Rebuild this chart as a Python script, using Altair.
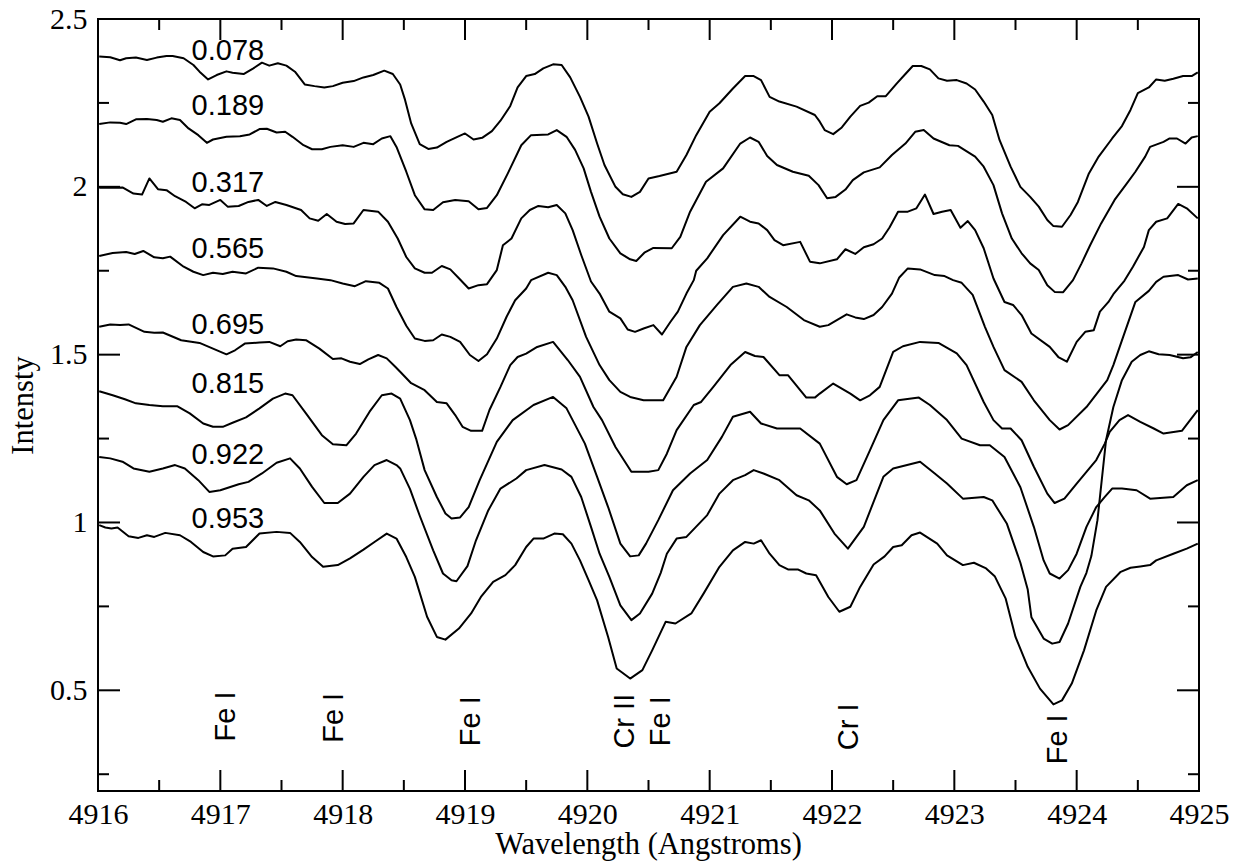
import altair as alt
import pandas as pd

W, H = 1101, 772

# ---------------- spectra (wavelength in Angstroms, intensity) ----------------
wl_078 = [4916.01, 4916.10, 4916.18, 4916.23, 4916.31, 4916.40, 4916.48, 4916.56, 4916.61, 4916.70,
          4916.78, 4916.83, 4916.90, 4916.97, 4917.05, 4917.10, 4917.19, 4917.27, 4917.34, 4917.40,
          4917.47, 4917.54, 4917.61, 4917.69, 4917.77, 4917.85, 4917.92, 4918.00, 4918.09, 4918.17,
          4918.25, 4918.34, 4918.41, 4918.47, 4918.51, 4918.56, 4918.63, 4918.70, 4918.77, 4918.85,
          4918.92, 4919.00, 4919.07, 4919.14, 4919.22, 4919.29, 4919.37, 4919.43, 4919.50, 4919.57,
          4919.64, 4919.72, 4919.79, 4919.86, 4919.94, 4920.01, 4920.08, 4920.14, 4920.23, 4920.29,
          4920.36, 4920.43, 4920.50, 4920.59, 4920.73, 4920.81, 4920.89, 4921.00, 4921.08, 4921.19,
          4921.29, 4921.36, 4921.42, 4921.49, 4921.57, 4921.71, 4921.86, 4921.90, 4921.94, 4922.01,
          4922.08, 4922.15, 4922.23, 4922.30, 4922.37, 4922.44, 4922.53, 4922.60, 4922.66, 4922.73,
          4922.80, 4922.87, 4922.94, 4923.02, 4923.10, 4923.17, 4923.24, 4923.31, 4923.37, 4923.46,
          4923.54, 4923.62, 4923.69, 4923.76, 4923.81, 4923.88, 4923.95, 4924.01, 4924.10, 4924.18,
          4924.29, 4924.37, 4924.44, 4924.50, 4924.59, 4924.65, 4924.72, 4924.79, 4924.87, 4924.94,
          4924.99]
in_078 = [2.388, 2.386, 2.377, 2.383, 2.385, 2.378, 2.385, 2.390, 2.390, 2.383,
          2.363, 2.343, 2.320, 2.333, 2.344, 2.340, 2.336, 2.353, 2.370, 2.361,
          2.368, 2.361, 2.343, 2.305, 2.300, 2.296, 2.300, 2.310, 2.315, 2.326,
          2.333, 2.346, 2.336, 2.305, 2.259, 2.189, 2.127, 2.113, 2.117, 2.134,
          2.146, 2.159, 2.141, 2.146, 2.166, 2.197, 2.241, 2.296, 2.330, 2.336,
          2.353, 2.365, 2.363, 2.326, 2.268, 2.209, 2.129, 2.065, 2.000, 1.978,
          1.970, 1.985, 2.025, 2.032, 2.045, 2.095, 2.154, 2.224, 2.249, 2.293,
          2.330, 2.330, 2.318, 2.268, 2.254, 2.239, 2.214, 2.194, 2.169, 2.157,
          2.177, 2.209, 2.241, 2.251, 2.270, 2.270, 2.308, 2.336, 2.360, 2.360,
          2.350, 2.323, 2.316, 2.318, 2.308, 2.290, 2.254, 2.214, 2.139, 2.060,
          2.000, 1.970, 1.941, 1.901, 1.883, 1.881, 1.916, 1.955, 2.040, 2.090,
          2.144, 2.181, 2.229, 2.279, 2.296, 2.320, 2.316, 2.322, 2.330, 2.330,
          2.341]

wl_189 = [4916.01, 4916.10, 4916.18, 4916.23, 4916.31, 4916.40, 4916.48, 4916.53, 4916.60, 4916.67,
          4916.74, 4916.82, 4916.89, 4916.94, 4917.05, 4917.16, 4917.24, 4917.32, 4917.38, 4917.46,
          4917.53, 4917.59, 4917.68, 4917.75, 4917.83, 4917.90, 4918.00, 4918.09, 4918.17, 4918.25,
          4918.32, 4918.39, 4918.44, 4918.52, 4918.59, 4918.67, 4918.74, 4918.82, 4918.92, 4919.03,
          4919.11, 4919.18, 4919.26, 4919.35, 4919.46, 4919.54, 4919.68, 4919.75, 4919.83, 4919.90,
          4919.97, 4920.03, 4920.10, 4920.18, 4920.27, 4920.35, 4920.40, 4920.47, 4920.54, 4920.69,
          4920.76, 4920.84, 4920.97, 4921.11, 4921.25, 4921.33, 4921.40, 4921.47, 4921.55, 4921.68,
          4921.81, 4921.89, 4921.96, 4922.03, 4922.11, 4922.17, 4922.26, 4922.39, 4922.49, 4922.60,
          4922.68, 4922.75, 4922.83, 4922.96, 4923.03, 4923.17, 4923.24, 4923.32, 4923.39, 4923.47,
          4923.55, 4923.62, 4923.69, 4923.76, 4923.82, 4923.89, 4923.97, 4924.04, 4924.11, 4924.20,
          4924.31, 4924.40, 4924.48, 4924.56, 4924.60, 4924.71, 4924.76, 4924.82, 4924.89, 4924.94,
          4924.99]
in_189 = [2.187, 2.192, 2.191, 2.187, 2.201, 2.202, 2.199, 2.194, 2.204, 2.199,
          2.174, 2.154, 2.131, 2.141, 2.149, 2.151, 2.156, 2.172, 2.173, 2.162,
          2.164, 2.149, 2.124, 2.112, 2.112, 2.119, 2.124, 2.119, 2.131, 2.127,
          2.144, 2.151, 2.119, 2.045, 1.975, 1.933, 1.931, 1.954, 1.961, 1.957,
          1.933, 1.937, 1.975, 2.040, 2.124, 2.154, 2.156, 2.169, 2.149, 2.110,
          2.055, 1.985, 1.911, 1.846, 1.802, 1.784, 1.779, 1.805, 1.818, 1.817,
          1.851, 1.926, 2.015, 2.055, 2.129, 2.147, 2.134, 2.092, 2.065, 2.045,
          2.033, 2.005, 1.966, 1.970, 1.992, 2.020, 2.043, 2.058, 2.095, 2.129,
          2.164, 2.169, 2.144, 2.124, 2.122, 2.090, 2.060, 2.005, 1.921, 1.846,
          1.802, 1.772, 1.752, 1.707, 1.687, 1.686, 1.722, 1.772, 1.826, 1.891,
          1.961, 2.005, 2.045, 2.090, 2.119, 2.134, 2.144, 2.144, 2.129, 2.147,
          2.151]

wl_317 = [4916.01, 4916.12, 4916.20, 4916.29, 4916.36, 4916.42, 4916.49, 4916.56, 4916.63, 4916.72,
          4916.79, 4916.85, 4916.91, 4917.00, 4917.06, 4917.15, 4917.23, 4917.31, 4917.38, 4917.45,
          4917.54, 4917.66, 4917.73, 4917.80, 4917.87, 4917.95, 4918.02, 4918.09, 4918.17, 4918.29,
          4918.37, 4918.45, 4918.52, 4918.59, 4918.67, 4918.73, 4918.81, 4918.88, 4918.96, 4919.03,
          4919.11, 4919.18, 4919.26, 4919.31, 4919.38, 4919.46, 4919.53, 4919.60, 4919.68, 4919.75,
          4919.82, 4919.88, 4919.95, 4920.03, 4920.10, 4920.18, 4920.27, 4920.33, 4920.39, 4920.46,
          4920.54, 4920.61, 4920.68, 4920.74, 4920.81, 4920.87, 4920.89, 4920.98, 4921.11, 4921.25,
          4921.33, 4921.40, 4921.47, 4921.53, 4921.60, 4921.74, 4921.82, 4921.90, 4922.04, 4922.11,
          4922.19, 4922.26, 4922.34, 4922.41, 4922.47, 4922.54, 4922.62, 4922.69, 4922.76, 4922.83,
          4922.90, 4922.97, 4923.05, 4923.11, 4923.17, 4923.24, 4923.32, 4923.41, 4923.48, 4923.55,
          4923.63, 4923.78, 4923.85, 4923.92, 4924.00, 4924.07, 4924.14, 4924.19, 4924.26, 4924.30,
          4924.39, 4924.46, 4924.55, 4924.59, 4924.65, 4924.74, 4924.83, 4924.90, 4924.99]
in_317 = [1.997, 1.997, 1.998, 1.980, 1.977, 2.025, 1.993, 1.990, 1.972, 1.955,
          1.936, 1.948, 1.946, 1.961, 1.941, 1.943, 1.955, 1.961, 1.943, 1.955,
          1.946, 1.931, 1.906, 1.899, 1.919, 1.896, 1.889, 1.891, 1.931, 1.926,
          1.896, 1.846, 1.791, 1.757, 1.744, 1.744, 1.764, 1.754, 1.724, 1.697,
          1.707, 1.710, 1.752, 1.826, 1.846, 1.906, 1.931, 1.943, 1.939, 1.946,
          1.921, 1.871, 1.797, 1.718, 1.682, 1.628, 1.608, 1.575, 1.568, 1.578,
          1.588, 1.560, 1.598, 1.628, 1.682, 1.722, 1.750, 1.787, 1.856, 1.911,
          1.896, 1.891, 1.871, 1.841, 1.826, 1.836, 1.777, 1.772, 1.784, 1.814,
          1.800, 1.820, 1.829, 1.846, 1.879, 1.926, 1.926, 1.936, 1.977, 1.919,
          1.926, 1.931, 1.878, 1.898, 1.871, 1.817, 1.727, 1.657, 1.648, 1.618,
          1.563, 1.523, 1.493, 1.479, 1.538, 1.568, 1.573, 1.628, 1.657, 1.680,
          1.720, 1.762, 1.821, 1.871, 1.896, 1.906, 1.949, 1.936, 1.906]

wl_565 = [4916.01, 4916.12, 4916.23, 4916.30, 4916.37, 4916.46, 4916.53, 4916.59, 4916.70, 4916.78,
          4916.86, 4916.94, 4917.02, 4917.10, 4917.21, 4917.31, 4917.43, 4917.54, 4917.62, 4917.79,
          4917.90, 4918.00, 4918.10, 4918.19, 4918.30, 4918.37, 4918.44, 4918.52, 4918.59, 4918.67,
          4918.74, 4918.81, 4918.88, 4918.96, 4919.04, 4919.11, 4919.18, 4919.26, 4919.34, 4919.41,
          4919.50, 4919.54, 4919.68, 4919.75, 4919.82, 4919.88, 4919.99, 4920.10, 4920.18, 4920.27,
          4920.35, 4920.46, 4920.62, 4920.73, 4920.81, 4920.92, 4921.06, 4921.19, 4921.30, 4921.40,
          4921.49, 4921.63, 4921.77, 4921.90, 4921.97, 4922.05, 4922.12, 4922.19, 4922.26, 4922.34,
          4922.41, 4922.49, 4922.55, 4922.62, 4922.72, 4922.84, 4922.92, 4922.99, 4923.06, 4923.15,
          4923.25, 4923.32, 4923.41, 4923.55, 4923.65, 4923.78, 4923.86, 4923.93, 4924.08, 4924.25,
          4924.30, 4924.38, 4924.48, 4924.59, 4924.65, 4924.71, 4924.83, 4924.91, 4924.99]
in_565 = [1.794, 1.803, 1.806, 1.800, 1.809, 1.790, 1.787, 1.792, 1.762, 1.747,
          1.737, 1.744, 1.740, 1.747, 1.742, 1.759, 1.757, 1.747, 1.734, 1.727,
          1.722, 1.712, 1.704, 1.719, 1.714, 1.697, 1.642, 1.586, 1.548, 1.541,
          1.543, 1.560, 1.553, 1.538, 1.499, 1.481, 1.501, 1.548, 1.613, 1.662,
          1.697, 1.722, 1.744, 1.737, 1.702, 1.662, 1.553, 1.469, 1.424, 1.389,
          1.374, 1.364, 1.364, 1.434, 1.523, 1.588, 1.648, 1.702, 1.712, 1.702,
          1.672, 1.642, 1.603, 1.583, 1.588, 1.605, 1.620, 1.611, 1.606, 1.618,
          1.642, 1.682, 1.730, 1.757, 1.754, 1.737, 1.734, 1.722, 1.714, 1.678,
          1.583, 1.523, 1.454, 1.419, 1.364, 1.305, 1.277, 1.290, 1.344, 1.424,
          1.469, 1.553, 1.657, 1.690, 1.717, 1.732, 1.737, 1.724, 1.727]

wl_695 = [4916.01, 4916.10, 4916.18, 4916.25, 4916.38, 4916.46, 4916.53, 4916.68, 4916.83, 4916.94,
          4917.05, 4917.12, 4917.20, 4917.32, 4917.40, 4917.49, 4917.55, 4917.62, 4917.70, 4917.81,
          4917.92, 4917.99, 4918.06, 4918.14, 4918.21, 4918.29, 4918.36, 4918.43, 4918.47, 4918.56,
          4918.67, 4918.77, 4918.85, 4918.92, 4918.98, 4919.05, 4919.14, 4919.20, 4919.29, 4919.37,
          4919.43, 4919.50, 4919.59, 4919.72, 4919.84, 4919.94, 4920.05, 4920.12, 4920.23, 4920.36,
          4920.50, 4920.58, 4920.65, 4920.73, 4920.87, 4920.93, 4921.03, 4921.17, 4921.29, 4921.37,
          4921.44, 4921.57, 4921.64, 4921.79, 4921.86, 4921.90, 4922.01, 4922.15, 4922.23, 4922.31,
          4922.39, 4922.50, 4922.58, 4922.72, 4922.87, 4923.02, 4923.10, 4923.24, 4923.32, 4923.39,
          4923.46, 4923.55, 4923.65, 4923.76, 4923.82, 4923.90, 4924.00, 4924.08, 4924.16, 4924.23,
          4924.27, 4924.35, 4924.42, 4924.52, 4924.63, 4924.71, 4924.86, 4924.99]
in_695 = [1.583, 1.590, 1.588, 1.590, 1.568, 1.565, 1.566, 1.543, 1.535, 1.518,
          1.501, 1.513, 1.533, 1.536, 1.538, 1.525, 1.540, 1.545, 1.543, 1.518,
          1.487, 1.489, 1.479, 1.472, 1.486, 1.499, 1.489, 1.464, 1.449, 1.415,
          1.394, 1.359, 1.355, 1.320, 1.285, 1.273, 1.273, 1.335, 1.404, 1.469,
          1.493, 1.503, 1.523, 1.538, 1.484, 1.434, 1.344, 1.305, 1.225, 1.151,
          1.151, 1.156, 1.205, 1.275, 1.350, 1.359, 1.404, 1.469, 1.508, 1.496,
          1.493, 1.439, 1.439, 1.372, 1.372, 1.384, 1.414, 1.384, 1.364, 1.379,
          1.404, 1.508, 1.525, 1.538, 1.535, 1.504, 1.469, 1.359, 1.305, 1.280,
          1.280, 1.245, 1.166, 1.086, 1.058, 1.071, 1.116, 1.151, 1.186, 1.235,
          1.270, 1.305, 1.320, 1.300, 1.280, 1.265, 1.273, 1.335]

wl_815 = [4916.01, 4916.12, 4916.22, 4916.31, 4916.42, 4916.53, 4916.65, 4916.75, 4916.86, 4916.94,
          4917.02, 4917.10, 4917.21, 4917.32, 4917.43, 4917.53, 4917.59, 4917.70, 4917.83, 4917.92,
          4918.03, 4918.11, 4918.22, 4918.32, 4918.40, 4918.47, 4918.55, 4918.60, 4918.67, 4918.77,
          4918.84, 4918.89, 4918.96, 4919.03, 4919.12, 4919.26, 4919.39, 4919.56, 4919.72, 4919.83,
          4919.98, 4920.08, 4920.17, 4920.27, 4920.35, 4920.42, 4920.48, 4920.58, 4920.70, 4920.84,
          4920.98, 4921.10, 4921.19, 4921.33, 4921.42, 4921.55, 4921.74, 4921.90, 4922.04, 4922.12,
          4922.20, 4922.31, 4922.42, 4922.54, 4922.71, 4922.80, 4922.94, 4923.06, 4923.21, 4923.29,
          4923.41, 4923.54, 4923.65, 4923.73, 4923.78, 4923.86, 4923.93, 4924.00, 4924.08, 4924.16,
          4924.23, 4924.29, 4924.37, 4924.49, 4924.60, 4924.79, 4924.90, 4924.99]
in_815 = [1.391, 1.379, 1.367, 1.355, 1.350, 1.346, 1.346, 1.325, 1.295, 1.285,
          1.285, 1.297, 1.313, 1.340, 1.369, 1.384, 1.379, 1.325, 1.260, 1.233,
          1.230, 1.265, 1.330, 1.379, 1.384, 1.369, 1.305, 1.250, 1.156, 1.076,
          1.027, 1.012, 1.015, 1.046, 1.126, 1.240, 1.305, 1.350, 1.374, 1.340,
          1.235, 1.136, 1.046, 0.937, 0.899, 0.902, 0.937, 1.007, 1.096, 1.146,
          1.186, 1.255, 1.315, 1.330, 1.295, 1.280, 1.280, 1.235, 1.136, 1.114,
          1.126, 1.215, 1.305, 1.364, 1.372, 1.350, 1.305, 1.250, 1.230, 1.230,
          1.195, 1.105, 0.987, 0.887, 0.848, 0.833, 0.858, 0.907, 0.987, 1.046,
          1.076, 1.101, 1.101, 1.096, 1.071, 1.076, 1.111, 1.126]

wl_922 = [4916.01, 4916.10, 4916.20, 4916.29, 4916.42, 4916.53, 4916.63, 4916.71, 4916.82, 4916.91,
          4917.00, 4917.15, 4917.23, 4917.34, 4917.46, 4917.57, 4917.65, 4917.75, 4917.85, 4917.96,
          4918.06, 4918.17, 4918.26, 4918.36, 4918.44, 4918.47, 4918.55, 4918.63, 4918.74, 4918.82,
          4918.89, 4918.93, 4919.02, 4919.09, 4919.19, 4919.29, 4919.42, 4919.50, 4919.65, 4919.79,
          4919.87, 4919.95, 4920.03, 4920.10, 4920.18, 4920.27, 4920.36, 4920.43, 4920.53, 4920.60,
          4920.65, 4920.73, 4920.81, 4920.98, 4921.08, 4921.19, 4921.29, 4921.36, 4921.44, 4921.57,
          4921.71, 4921.81, 4921.90, 4922.02, 4922.13, 4922.26, 4922.42, 4922.50, 4922.72, 4922.84,
          4922.94, 4923.07, 4923.24, 4923.31, 4923.43, 4923.54, 4923.60, 4923.63, 4923.73, 4923.80,
          4923.86, 4923.93, 4924.03, 4924.08, 4924.12, 4924.17, 4924.24, 4924.30, 4924.37, 4924.45,
          4924.52, 4924.59, 4924.67, 4924.76, 4924.87, 4924.93, 4924.99]
in_922 = [1.195, 1.191, 1.181, 1.161, 1.151, 1.161, 1.171, 1.161, 1.126, 1.091,
          1.096, 1.114, 1.121, 1.146, 1.178, 1.191, 1.161, 1.106, 1.058, 1.058,
          1.086, 1.136, 1.171, 1.186, 1.171, 1.161, 1.100, 1.020, 0.917, 0.848,
          0.828, 0.825, 0.870, 0.947, 1.036, 1.101, 1.131, 1.156, 1.171, 1.158,
          1.136, 1.076, 0.987, 0.907, 0.838, 0.753, 0.709, 0.729, 0.788, 0.850,
          0.907, 0.952, 0.957, 1.022, 1.086, 1.126, 1.141, 1.156, 1.146, 1.126,
          1.081, 1.066, 1.036, 0.967, 0.922, 0.987, 1.136, 1.161, 1.181, 1.146,
          1.116, 1.071, 1.076, 1.066, 0.996, 0.880, 0.800, 0.718, 0.654, 0.639,
          0.644, 0.699, 0.808, 0.850, 0.900, 1.007, 1.245, 1.344, 1.424, 1.479,
          1.499, 1.510, 1.501, 1.499, 1.489, 1.492, 1.508]

wl_953 = [4916.01, 4916.06, 4916.11, 4916.16, 4916.25, 4916.33, 4916.40, 4916.46, 4916.55, 4916.67,
          4916.76, 4916.86, 4916.94, 4917.04, 4917.10, 4917.21, 4917.32, 4917.46, 4917.57, 4917.65,
          4917.75, 4917.84, 4917.96, 4918.06, 4918.17, 4918.26, 4918.36, 4918.44, 4918.52, 4918.59,
          4918.69, 4918.77, 4918.84, 4918.95, 4919.05, 4919.13, 4919.23, 4919.33, 4919.41, 4919.50,
          4919.56, 4919.64, 4919.73, 4919.80, 4919.87, 4919.94, 4920.01, 4920.08, 4920.17, 4920.24,
          4920.35, 4920.45, 4920.53, 4920.64, 4920.72, 4920.85, 4920.95, 4921.08, 4921.19, 4921.29,
          4921.36, 4921.42, 4921.49, 4921.57, 4921.64, 4921.72, 4921.79, 4921.87, 4921.97, 4922.06,
          4922.15, 4922.23, 4922.34, 4922.43, 4922.50, 4922.57, 4922.65, 4922.72, 4922.86, 4922.94,
          4923.07, 4923.16, 4923.26, 4923.33, 4923.42, 4923.50, 4923.60, 4923.70, 4923.81, 4923.88,
          4923.96, 4924.06, 4924.16, 4924.24, 4924.36, 4924.44, 4924.52, 4924.60, 4924.65, 4924.79,
          4924.90, 4924.99]
in_953 = [0.992, 0.985, 0.982, 0.985, 0.959, 0.954, 0.962, 0.957, 0.969, 0.962,
          0.942, 0.912, 0.899, 0.902, 0.922, 0.927, 0.967, 0.972, 0.969, 0.942,
          0.897, 0.868, 0.873, 0.893, 0.919, 0.942, 0.967, 0.952, 0.897, 0.838,
          0.719, 0.659, 0.651, 0.684, 0.729, 0.778, 0.823, 0.843, 0.873, 0.927,
          0.952, 0.952, 0.967, 0.965, 0.937, 0.887, 0.828, 0.768, 0.659, 0.565,
          0.535, 0.560, 0.619, 0.704, 0.699, 0.729, 0.788, 0.868, 0.917, 0.942,
          0.937, 0.947, 0.907, 0.873, 0.860, 0.860, 0.848, 0.843, 0.778, 0.734,
          0.749, 0.808, 0.875, 0.899, 0.927, 0.932, 0.962, 0.970, 0.937, 0.902,
          0.873, 0.880, 0.863, 0.840, 0.773, 0.659, 0.570, 0.505, 0.458, 0.470,
          0.520, 0.619, 0.738, 0.808, 0.853, 0.865, 0.869, 0.873, 0.887, 0.907,
          0.922, 0.937]

# ---------------- text annotations ----------------
phase_labels = ["0.078", "0.189", "0.317", "0.565", "0.695", "0.815", "0.922", "0.953"]
phase_label_wl = [4916.765] * 8
phase_label_int = [2.404, 2.242, 2.010, 1.816, 1.588, 1.413, 1.201, 1.009]

line_ids = ["Fe I", "Fe I", "Fe I", "Cr II", "Fe I", "Cr I", "Fe I"]
line_id_wl = [4917.05, 4917.93, 4919.05, 4920.31, 4920.60, 4922.14, 4923.85]
line_id_int = [0.422, 0.418, 0.408, 0.408, 0.408, 0.391, 0.354]

# ---------------- axis ticks ----------------
x_major = [4917, 4918, 4919, 4920, 4921, 4922, 4923, 4924]
x_minor = [4916.5, 4917.5, 4918.5, 4919.5, 4920.5, 4921.5, 4922.5, 4923.5, 4924.5]
y_major = [0.5, 1.0, 1.5, 2.0]
y_minor = [0.25, 0.75, 1.25, 1.75, 2.25]
x_labels = [4916, 4917, 4918, 4919, 4920, 4921, 4922, 4923, 4924, 4925]
y_labels = [0.5, 1.0, 1.5, 2.0, 2.5]

series = [("0.078", wl_078, in_078), ("0.189", wl_189, in_189), ("0.317", wl_317, in_317),
          ("0.565", wl_565, in_565), ("0.695", wl_695, in_695), ("0.815", wl_815, in_815),
          ("0.922", wl_922, in_922), ("0.953", wl_953, in_953)]
rows = []
for name, xs, ys in series:
    for i, (a, b) in enumerate(zip(xs, ys)):
        rows.append({"series": name, "wl": a, "I": b, "i": i})
df = pd.DataFrame(rows)

x_scale = alt.Scale(domain=[4916, 4925], nice=False, zero=False)
y_scale = alt.Scale(domain=[0.2, 2.5], nice=False, zero=False)

SERIF = "Liberation Serif"
SANS = "Liberation Sans"

x_axis = alt.Axis(values=x_labels, format="d", labelFont=SERIF, labelFontSize=30, labelColor="black",
                  ticks=False, tickSize=0, domain=False, grid=False, labelPadding=8,
                  labelFlush=False, labelOverlap=False,
                  title="Wavelength (Angstroms)", titleFont=SERIF, titleFontSize=30.5,
                  titleFontWeight="normal", titleColor="black", titleX=550, titleY=62,
                  titleBaseline="alphabetic", titleAlign="center")
y_axis = alt.Axis(values=y_labels, format="~g", labelFont=SERIF, labelFontSize=30, labelColor="black",
                  ticks=False, tickSize=0, domain=False, grid=False, labelPadding=11,
                  labelFlush=False, labelOverlap=False,
                  title="Intensty", titleFont=SERIF, titleFontSize=30.5, titleFontWeight="normal",
                  titleColor="black", titleX=-66, titleY=H / 2, titleAngle=270,
                  titleBaseline="alphabetic", titleAlign="center")

lines = alt.Chart(df).mark_line(color="black", strokeWidth=2, clip=True, strokeJoin="round").encode(
    x=alt.X("wl:Q", scale=x_scale, axis=x_axis),
    y=alt.Y("I:Q", scale=y_scale, axis=y_axis),
    detail="series:N",
    order="i:Q",
)

lab_df = pd.DataFrame({"wl": phase_label_wl, "I": phase_label_int, "t": phase_labels})
phase_text = alt.Chart(lab_df).mark_text(align="left", baseline="middle", font=SANS, fontSize=29,
                                         color="black").encode(
    x=alt.X("wl:Q", scale=x_scale), y=alt.Y("I:Q", scale=y_scale), text="t:N")

id_df = pd.DataFrame({"wl": line_id_wl, "I": line_id_int, "t": line_ids})
id_text = alt.Chart(id_df).mark_text(angle=270, align="center", baseline="middle", font=SANS,
                                     fontSize=29, color="black").encode(
    x=alt.X("wl:Q", scale=x_scale), y=alt.Y("I:Q", scale=y_scale), text="t:N")

def xticks(vals, y0, y1):
    return alt.Chart(pd.DataFrame({"wl": vals})).mark_rule(color="black", strokeWidth=2).encode(
        x=alt.X("wl:Q", scale=x_scale), y=alt.value(y0), y2=alt.value(y1))

def yticks(vals, x0, x1):
    return alt.Chart(pd.DataFrame({"I": vals})).mark_rule(color="black", strokeWidth=2).encode(
        y=alt.Y("I:Q", scale=y_scale), x=alt.value(x0), x2=alt.value(x1))

ticks = [
    xticks(x_major, H, H - 21), xticks(x_minor, H, H - 11),
    xticks(x_major, 0, 21), xticks(x_minor, 0, 11),
    yticks(y_major, 0, 22), yticks(y_minor, 0, 11),
    yticks(y_major, W, W - 22), yticks(y_minor, W, W - 11),
]

chart = alt.layer(lines, phase_text, id_text, *ticks).properties(
    width=W, height=H,
    padding={"left": 98, "top": 19, "right": 49, "bottom": 74},
    autosize=alt.AutoSizeParams(type="none"),
    background="white",
).configure_view(
    stroke="black", strokeWidth=2
).configure_axis(
    labelFont=SERIF, titleFont=SERIF, labelFontSize=30, titleFontSize=30.5,
    labelColor="black", titleColor="black"
)

chart.save("out.html", embed_options={"renderer": "svg", "actions": False})
